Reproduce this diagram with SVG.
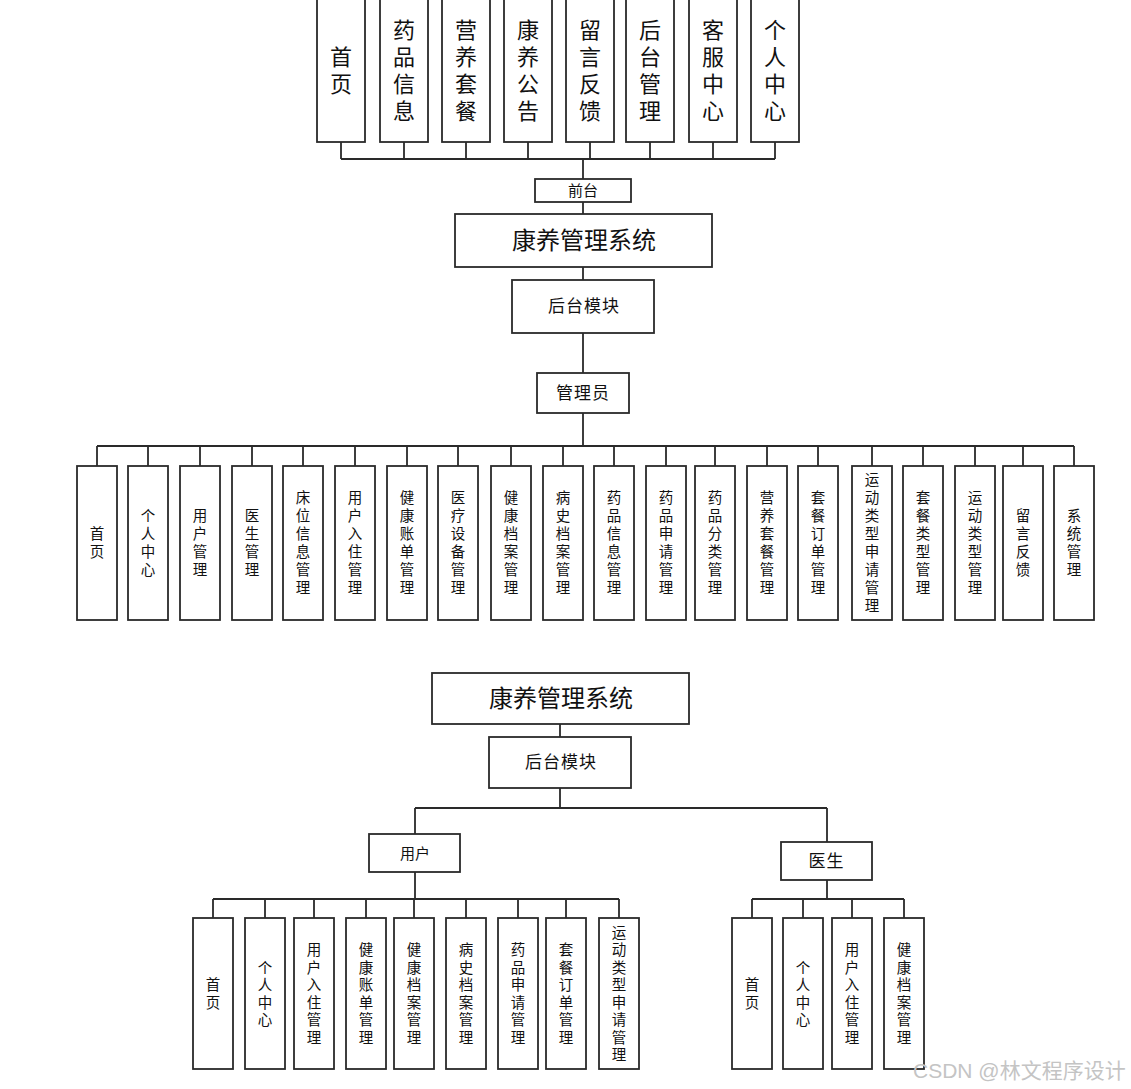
<svg xmlns="http://www.w3.org/2000/svg" width="1131" height="1089" viewBox="0 0 1131 1089">
<style>
.box{fill:#fff;stroke:#2a2a2a;stroke-width:1.8}
.ln{fill:none;stroke:#2a2a2a;stroke-width:1.8}
text{font-family:"Liberation Sans","Noto Sans CJK SC",sans-serif;fill:#111;text-anchor:middle;dominant-baseline:central}
.t22{font-size:22px}
.t24{font-size:24px}
.t17{font-size:17px;letter-spacing:1px}
.t15{font-size:15px}
.t14{font-size:14.5px}
.wm{font-size:21px;fill:#c4c4c4;text-anchor:start;dominant-baseline:auto}
</style>
<rect width="1131" height="1089" fill="#fff"/>
<g id="connectors">
<path class="ln" d="M341 142V159M404 142V159M466 142V159M528 142V159M590 142V159M650 142V159M713 142V159M775 142V159M341 159H775M583 159V179M583 202V214M583 267V280M583 333V373M583 413V446"/>
<path class="ln" d="M97 446H1074M97 446V466M148 446V466M200 446V466M252 446V466M303 446V466M355 446V466M407 446V466M458 446V466M511 446V466M563 446V466M614 446V466M666 446V466M715 446V466M767 446V466M818 446V466M872 446V466M923 446V466M975 446V466M1023 446V466M1074 446V466"/>
<path class="ln" d="M560 724V737M560 788V808M415 808H827M415 808V834M827 808V842M415 872V899M213 899H619M213 899V918M265 899V918M314 899V918M366 899V918M414 899V918M466 899V918M518 899V918M566 899V918M619 899V918M827 880V899M752 899H904M752 899V918M803 899V918M852 899V918M904 899V918"/>
</g>
<g id="f1"><rect class="box" x="317" y="-2" width="48" height="144"/><text class="t22"><tspan x="341" y="56.5">首</tspan><tspan x="341" y="83.5">页</tspan></text></g>
<g id="f2"><rect class="box" x="380" y="-2" width="48" height="144"/><text class="t22"><tspan x="404" y="29.5">药</tspan><tspan x="404" y="56.5">品</tspan><tspan x="404" y="83.5">信</tspan><tspan x="404" y="110.5">息</tspan></text></g>
<g id="f3"><rect class="box" x="442" y="-2" width="48" height="144"/><text class="t22"><tspan x="466" y="29.5">营</tspan><tspan x="466" y="56.5">养</tspan><tspan x="466" y="83.5">套</tspan><tspan x="466" y="110.5">餐</tspan></text></g>
<g id="f4"><rect class="box" x="504" y="-2" width="48" height="144"/><text class="t22"><tspan x="528" y="29.5">康</tspan><tspan x="528" y="56.5">养</tspan><tspan x="528" y="83.5">公</tspan><tspan x="528" y="110.5">告</tspan></text></g>
<g id="f5"><rect class="box" x="566" y="-2" width="48" height="144"/><text class="t22"><tspan x="590" y="29.5">留</tspan><tspan x="590" y="56.5">言</tspan><tspan x="590" y="83.5">反</tspan><tspan x="590" y="110.5">馈</tspan></text></g>
<g id="f6"><rect class="box" x="626" y="-2" width="48" height="144"/><text class="t22"><tspan x="650" y="29.5">后</tspan><tspan x="650" y="56.5">台</tspan><tspan x="650" y="83.5">管</tspan><tspan x="650" y="110.5">理</tspan></text></g>
<g id="f7"><rect class="box" x="689" y="-2" width="48" height="144"/><text class="t22"><tspan x="713" y="29.5">客</tspan><tspan x="713" y="56.5">服</tspan><tspan x="713" y="83.5">中</tspan><tspan x="713" y="110.5">心</tspan></text></g>
<g id="f8"><rect class="box" x="751" y="-2" width="48" height="144"/><text class="t22"><tspan x="775" y="29.5">个</tspan><tspan x="775" y="56.5">人</tspan><tspan x="775" y="83.5">中</tspan><tspan x="775" y="110.5">心</tspan></text></g>
<g id="qiantai"><rect class="box" x="535" y="179" width="96" height="23"/><text class="t15" x="583" y="190.5">前台</text></g>
<g id="sys1"><rect class="box" x="455" y="214" width="257" height="53"/><text class="t24" x="584" y="240.5">康养管理系统</text></g>
<g id="backend1"><rect class="box" x="512" y="280" width="142" height="53"/><text class="t17" x="584" y="306.5">后台模块</text></g>
<g id="admin"><rect class="box" x="537" y="373" width="92" height="40"/><text class="t17" x="583" y="393">管理员</text></g>
<g id="a1"><rect class="box" x="77" y="466" width="40" height="154"/><text class="t14"><tspan x="97" y="534">首</tspan><tspan x="97" y="552">页</tspan></text></g>
<g id="a2"><rect class="box" x="128" y="466" width="40" height="154"/><text class="t14"><tspan x="148" y="516">个</tspan><tspan x="148" y="534">人</tspan><tspan x="148" y="552">中</tspan><tspan x="148" y="570">心</tspan></text></g>
<g id="a3"><rect class="box" x="180" y="466" width="40" height="154"/><text class="t14"><tspan x="200" y="516">用</tspan><tspan x="200" y="534">户</tspan><tspan x="200" y="552">管</tspan><tspan x="200" y="570">理</tspan></text></g>
<g id="a4"><rect class="box" x="232" y="466" width="40" height="154"/><text class="t14"><tspan x="252" y="516">医</tspan><tspan x="252" y="534">生</tspan><tspan x="252" y="552">管</tspan><tspan x="252" y="570">理</tspan></text></g>
<g id="a5"><rect class="box" x="283" y="466" width="40" height="154"/><text class="t14"><tspan x="303" y="498">床</tspan><tspan x="303" y="516">位</tspan><tspan x="303" y="534">信</tspan><tspan x="303" y="552">息</tspan><tspan x="303" y="570">管</tspan><tspan x="303" y="588">理</tspan></text></g>
<g id="a6"><rect class="box" x="335" y="466" width="40" height="154"/><text class="t14"><tspan x="355" y="498">用</tspan><tspan x="355" y="516">户</tspan><tspan x="355" y="534">入</tspan><tspan x="355" y="552">住</tspan><tspan x="355" y="570">管</tspan><tspan x="355" y="588">理</tspan></text></g>
<g id="a7"><rect class="box" x="387" y="466" width="40" height="154"/><text class="t14"><tspan x="407" y="498">健</tspan><tspan x="407" y="516">康</tspan><tspan x="407" y="534">账</tspan><tspan x="407" y="552">单</tspan><tspan x="407" y="570">管</tspan><tspan x="407" y="588">理</tspan></text></g>
<g id="a8"><rect class="box" x="438" y="466" width="40" height="154"/><text class="t14"><tspan x="458" y="498">医</tspan><tspan x="458" y="516">疗</tspan><tspan x="458" y="534">设</tspan><tspan x="458" y="552">备</tspan><tspan x="458" y="570">管</tspan><tspan x="458" y="588">理</tspan></text></g>
<g id="a9"><rect class="box" x="491" y="466" width="40" height="154"/><text class="t14"><tspan x="511" y="498">健</tspan><tspan x="511" y="516">康</tspan><tspan x="511" y="534">档</tspan><tspan x="511" y="552">案</tspan><tspan x="511" y="570">管</tspan><tspan x="511" y="588">理</tspan></text></g>
<g id="a10"><rect class="box" x="543" y="466" width="40" height="154"/><text class="t14"><tspan x="563" y="498">病</tspan><tspan x="563" y="516">史</tspan><tspan x="563" y="534">档</tspan><tspan x="563" y="552">案</tspan><tspan x="563" y="570">管</tspan><tspan x="563" y="588">理</tspan></text></g>
<g id="a11"><rect class="box" x="594" y="466" width="40" height="154"/><text class="t14"><tspan x="614" y="498">药</tspan><tspan x="614" y="516">品</tspan><tspan x="614" y="534">信</tspan><tspan x="614" y="552">息</tspan><tspan x="614" y="570">管</tspan><tspan x="614" y="588">理</tspan></text></g>
<g id="a12"><rect class="box" x="646" y="466" width="40" height="154"/><text class="t14"><tspan x="666" y="498">药</tspan><tspan x="666" y="516">品</tspan><tspan x="666" y="534">申</tspan><tspan x="666" y="552">请</tspan><tspan x="666" y="570">管</tspan><tspan x="666" y="588">理</tspan></text></g>
<g id="a13"><rect class="box" x="695" y="466" width="40" height="154"/><text class="t14"><tspan x="715" y="498">药</tspan><tspan x="715" y="516">品</tspan><tspan x="715" y="534">分</tspan><tspan x="715" y="552">类</tspan><tspan x="715" y="570">管</tspan><tspan x="715" y="588">理</tspan></text></g>
<g id="a14"><rect class="box" x="747" y="466" width="40" height="154"/><text class="t14"><tspan x="767" y="498">营</tspan><tspan x="767" y="516">养</tspan><tspan x="767" y="534">套</tspan><tspan x="767" y="552">餐</tspan><tspan x="767" y="570">管</tspan><tspan x="767" y="588">理</tspan></text></g>
<g id="a15"><rect class="box" x="798" y="466" width="40" height="154"/><text class="t14"><tspan x="818" y="498">套</tspan><tspan x="818" y="516">餐</tspan><tspan x="818" y="534">订</tspan><tspan x="818" y="552">单</tspan><tspan x="818" y="570">管</tspan><tspan x="818" y="588">理</tspan></text></g>
<g id="a16"><rect class="box" x="852" y="466" width="40" height="154"/><text class="t14"><tspan x="872" y="480">运</tspan><tspan x="872" y="498">动</tspan><tspan x="872" y="516">类</tspan><tspan x="872" y="534">型</tspan><tspan x="872" y="552">申</tspan><tspan x="872" y="570">请</tspan><tspan x="872" y="588">管</tspan><tspan x="872" y="606">理</tspan></text></g>
<g id="a17"><rect class="box" x="903" y="466" width="40" height="154"/><text class="t14"><tspan x="923" y="498">套</tspan><tspan x="923" y="516">餐</tspan><tspan x="923" y="534">类</tspan><tspan x="923" y="552">型</tspan><tspan x="923" y="570">管</tspan><tspan x="923" y="588">理</tspan></text></g>
<g id="a18"><rect class="box" x="955" y="466" width="40" height="154"/><text class="t14"><tspan x="975" y="498">运</tspan><tspan x="975" y="516">动</tspan><tspan x="975" y="534">类</tspan><tspan x="975" y="552">型</tspan><tspan x="975" y="570">管</tspan><tspan x="975" y="588">理</tspan></text></g>
<g id="a19"><rect class="box" x="1003" y="466" width="40" height="154"/><text class="t14"><tspan x="1023" y="516">留</tspan><tspan x="1023" y="534">言</tspan><tspan x="1023" y="552">反</tspan><tspan x="1023" y="570">馈</tspan></text></g>
<g id="a20"><rect class="box" x="1054" y="466" width="40" height="154"/><text class="t14"><tspan x="1074" y="516">系</tspan><tspan x="1074" y="534">统</tspan><tspan x="1074" y="552">管</tspan><tspan x="1074" y="570">理</tspan></text></g>
<g id="sys2"><rect class="box" x="432" y="673" width="257" height="51"/><text class="t24" x="561" y="698.5">康养管理系统</text></g>
<g id="backend2"><rect class="box" x="489" y="737" width="142" height="51"/><text class="t17" x="561" y="762.5">后台模块</text></g>
<g id="user"><rect class="box" x="369" y="834" width="91" height="38"/><text class="t15" x="415" y="853">用户</text></g>
<g id="doctor"><rect class="box" x="781" y="842" width="91" height="38"/><text class="t17" x="826.5" y="861">医生</text></g>
<g id="u1"><rect class="box" x="193" y="918" width="40" height="151"/><text class="t14"><tspan x="213" y="985">首</tspan><tspan x="213" y="1002.5">页</tspan></text></g>
<g id="u2"><rect class="box" x="245" y="918" width="40" height="151"/><text class="t14"><tspan x="265" y="967.5">个</tspan><tspan x="265" y="985">人</tspan><tspan x="265" y="1002.5">中</tspan><tspan x="265" y="1020">心</tspan></text></g>
<g id="u3"><rect class="box" x="294" y="918" width="40" height="151"/><text class="t14"><tspan x="314" y="950">用</tspan><tspan x="314" y="967.5">户</tspan><tspan x="314" y="985">入</tspan><tspan x="314" y="1002.5">住</tspan><tspan x="314" y="1020">管</tspan><tspan x="314" y="1037.5">理</tspan></text></g>
<g id="u4"><rect class="box" x="346" y="918" width="40" height="151"/><text class="t14"><tspan x="366" y="950">健</tspan><tspan x="366" y="967.5">康</tspan><tspan x="366" y="985">账</tspan><tspan x="366" y="1002.5">单</tspan><tspan x="366" y="1020">管</tspan><tspan x="366" y="1037.5">理</tspan></text></g>
<g id="u5"><rect class="box" x="394" y="918" width="40" height="151"/><text class="t14"><tspan x="414" y="950">健</tspan><tspan x="414" y="967.5">康</tspan><tspan x="414" y="985">档</tspan><tspan x="414" y="1002.5">案</tspan><tspan x="414" y="1020">管</tspan><tspan x="414" y="1037.5">理</tspan></text></g>
<g id="u6"><rect class="box" x="446" y="918" width="40" height="151"/><text class="t14"><tspan x="466" y="950">病</tspan><tspan x="466" y="967.5">史</tspan><tspan x="466" y="985">档</tspan><tspan x="466" y="1002.5">案</tspan><tspan x="466" y="1020">管</tspan><tspan x="466" y="1037.5">理</tspan></text></g>
<g id="u7"><rect class="box" x="498" y="918" width="40" height="151"/><text class="t14"><tspan x="518" y="950">药</tspan><tspan x="518" y="967.5">品</tspan><tspan x="518" y="985">申</tspan><tspan x="518" y="1002.5">请</tspan><tspan x="518" y="1020">管</tspan><tspan x="518" y="1037.5">理</tspan></text></g>
<g id="u8"><rect class="box" x="546" y="918" width="40" height="151"/><text class="t14"><tspan x="566" y="950">套</tspan><tspan x="566" y="967.5">餐</tspan><tspan x="566" y="985">订</tspan><tspan x="566" y="1002.5">单</tspan><tspan x="566" y="1020">管</tspan><tspan x="566" y="1037.5">理</tspan></text></g>
<g id="u9"><rect class="box" x="599" y="918" width="40" height="151"/><text class="t14"><tspan x="619" y="932.5">运</tspan><tspan x="619" y="950">动</tspan><tspan x="619" y="967.5">类</tspan><tspan x="619" y="985">型</tspan><tspan x="619" y="1002.5">申</tspan><tspan x="619" y="1020">请</tspan><tspan x="619" y="1037.5">管</tspan><tspan x="619" y="1055">理</tspan></text></g>
<g id="d1"><rect class="box" x="732" y="918" width="40" height="151"/><text class="t14"><tspan x="752" y="985">首</tspan><tspan x="752" y="1002.5">页</tspan></text></g>
<g id="d2"><rect class="box" x="783" y="918" width="40" height="151"/><text class="t14"><tspan x="803" y="967.5">个</tspan><tspan x="803" y="985">人</tspan><tspan x="803" y="1002.5">中</tspan><tspan x="803" y="1020">心</tspan></text></g>
<g id="d3"><rect class="box" x="832" y="918" width="40" height="151"/><text class="t14"><tspan x="852" y="950">用</tspan><tspan x="852" y="967.5">户</tspan><tspan x="852" y="985">入</tspan><tspan x="852" y="1002.5">住</tspan><tspan x="852" y="1020">管</tspan><tspan x="852" y="1037.5">理</tspan></text></g>
<g id="d4"><rect class="box" x="884" y="918" width="40" height="151"/><text class="t14"><tspan x="904" y="950">健</tspan><tspan x="904" y="967.5">康</tspan><tspan x="904" y="985">档</tspan><tspan x="904" y="1002.5">案</tspan><tspan x="904" y="1020">管</tspan><tspan x="904" y="1037.5">理</tspan></text></g>
<text class="wm" x="913" y="1078">CSDN @林文程序设计</text>
</svg>
